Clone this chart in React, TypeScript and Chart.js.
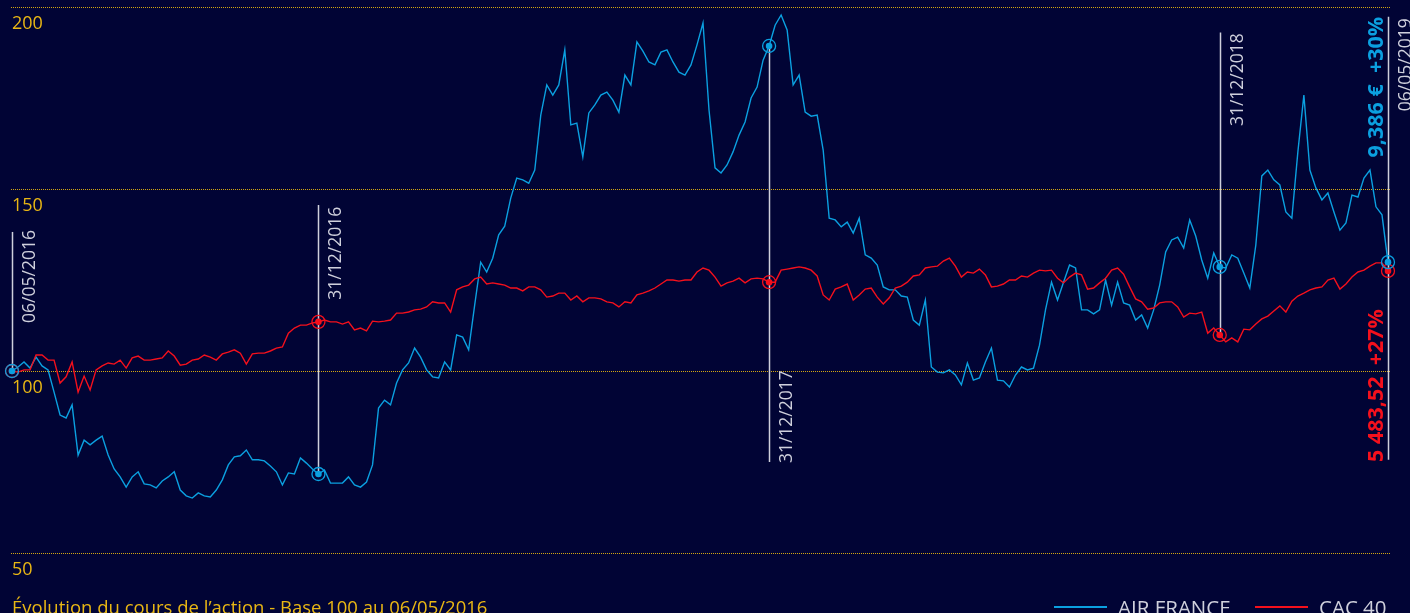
import React, { useEffect, useRef } from "react";
import { Chart, registerables } from "chart.js";

Chart.register(...registerables);

// ---------- DATA ----------
// Base 100 at 06/05/2016, sampled at regular intervals through 06/05/2019
const airFrance = [
  100, 101.1, 102.5, 100.8, 103.8, 101.4, 100.3, 94.2, 87.9, 87.1,
  90.7, 76.9, 81.0, 79.7, 81.0, 82.1, 76.9, 73.1, 70.9, 68.1,
  70.9, 72.3, 69.0, 68.7, 67.9, 69.8, 70.9, 72.3, 67.3, 65.7,
  65.1, 66.5, 65.7, 65.4, 67.3, 70.1, 74.2, 76.4, 76.7, 78.3,
  75.6, 75.6, 75.3, 73.9, 72.3, 68.7, 72.0, 71.7, 76.1, 74.7,
  73.1, 71.7, 72.8, 69.2, 69.2, 69.2, 70.9, 68.7, 68.1, 69.5,
  74.2, 89.8, 92.0, 90.7, 96.7, 100.3, 102.2, 106.3, 103.8, 100.3,
  98.4, 98.1, 102.5, 100.3, 109.9, 109.3, 105.8, 118.1, 129.9, 127.2,
  131.0, 137.4, 139.8, 147.5, 153.0, 152.5, 151.6, 155.2, 170.3, 178.6,
  175.8, 178.6, 188.2, 167.6, 168.1, 158.8, 170.9, 173.1, 175.8, 176.6,
  174.4, 171.1, 181.3, 178.6, 190.4, 187.9, 184.9, 184.1, 187.6, 188.2,
  184.9, 182.1, 181.3, 184.1, 189.6, 195.6, 171.7, 155.8, 154.4, 156.6,
  160.2, 164.8, 168.4, 175.0, 178.0, 185.4, 189.3, 195.0, 197.8, 193.7,
  178.6, 181.3, 171.1, 170.0, 170.3, 160.7, 142.0, 141.5, 139.6, 140.9,
  137.9, 142.0, 131.9, 131.0, 129.1, 123.1, 122.3, 122.3, 120.6, 120.3,
  114.0, 112.6, 119.5, 101.1, 99.7, 99.5, 100.3, 98.9, 96.2, 102.2,
  97.5, 98.1, 102.5, 106.3, 97.5, 97.3, 95.6, 98.9, 101.1, 100.3,
  100.8, 107.1, 116.8, 124.4, 119.5, 124.4, 129.1, 128.3, 116.8, 116.8,
  115.7, 116.8, 125.0, 118.1, 124.4, 118.7, 118.1, 114.0, 115.4, 111.8,
  116.8, 123.6, 132.7, 136.0, 136.8, 133.8, 141.5, 137.1, 130.5, 125.5,
  132.4, 128.6, 128.3, 131.9, 131.0, 126.9, 122.8, 134.6, 153.6, 155.2,
  152.5, 151.1, 143.7, 142.0, 160.2, 175.8, 155.2, 150.3, 147.0, 148.9,
  143.7, 138.7, 140.7, 148.3, 147.8, 153.0, 155.2, 145.1, 142.9, 129.9,
];

const cac40 = [
  100, 99.7, 100.3, 100.3, 104.4, 104.4, 103.0, 103.0, 96.7, 98.4,
  102.5, 94.2, 98.6, 94.8, 100.3, 101.4, 102.2, 101.9, 103.0, 100.8,
  103.6, 104.1, 103.0, 103.0, 103.3, 103.6, 105.5, 104.1, 101.6, 101.9,
  103.0, 103.3, 104.4, 103.8, 103.0, 104.7, 105.2, 105.8, 104.9, 101.9,
  104.7, 104.9, 104.9, 105.5, 106.3, 106.6, 110.4, 111.8, 112.6, 112.6,
  113.2, 113.5, 114.0, 113.5, 113.5, 112.9, 113.5, 111.3, 111.8, 111.0,
  113.7, 113.5, 113.7, 114.0, 115.9, 115.9, 116.2, 116.8, 117.0, 117.6,
  119.0, 118.7, 118.7, 116.2, 122.3, 123.1, 123.6, 125.3, 125.8, 123.9,
  124.2, 123.9, 123.6, 122.8, 122.8, 122.0, 123.1, 123.1, 122.3, 120.3,
  120.6, 121.4, 121.4, 119.5, 120.6, 119.0, 120.1, 120.1, 119.8, 119.0,
  118.7, 117.6, 119.0, 118.7, 120.9, 121.4, 122.0, 122.8, 123.9, 125.0,
  125.0, 124.7, 125.0, 125.0, 127.2, 128.3, 127.7, 125.8, 123.3, 124.2,
  124.7, 125.5, 124.2, 125.3, 125.5, 125.3, 124.4, 124.4, 127.7, 128.0,
  128.3, 128.6, 128.3, 127.7, 126.1, 120.9, 119.5, 122.5, 123.1, 123.9,
  119.5, 120.9, 122.5, 122.8, 120.3, 118.4, 120.1, 122.8, 123.3, 124.4,
  126.1, 126.4, 128.3, 128.6, 128.8, 130.2, 131.0, 128.8, 125.8, 127.2,
  126.9, 128.0, 126.4, 123.1, 123.3, 123.9, 125.0, 125.0, 126.1, 125.8,
  126.9, 127.7, 127.5, 127.7, 125.5, 124.2, 125.8, 126.9, 126.4, 122.5,
  122.8, 124.2, 125.5, 127.7, 128.3, 126.6, 123.1, 119.8, 119.0, 117.0,
  117.3, 118.7, 119.0, 119.0, 117.6, 114.8, 115.9, 115.7, 116.2, 110.4,
  111.8, 109.9, 108.0, 109.1, 108.0, 111.5, 111.3, 112.9, 114.3, 115.1,
  116.5, 117.9, 116.2, 119.2, 120.6, 121.4, 122.3, 122.8, 123.1, 125.0,
  125.5, 122.5, 123.9, 125.8, 127.2, 127.7, 128.8, 129.7, 129.7, 127.5,
];

const seriesNames = ["AIR FRANCE", "CAC 40"];
const yTicks = [50, 100, 150, 200];
const eventIndex = [0, 51, 126, 201, 229];
const eventLabels = ["06/05/2016", "31/12/2016", "31/12/2017", "31/12/2018", "06/05/2019"];
const eventLineTop = [138.2, 145.6, 189.3, 193.0, 197.3];
const eventLineBottom = [100, 71.7, 75.0, 109.9, 75.6];
const finalLabels = ["9,386 €  +30%", "5 483,52  +27%"];
const caption = "Évolution du cours de l’action - Base 100 au 06/05/2016";

// ---------- STYLE ----------
const BG = "#010435";
const GOLD = "#e9b714";
const GRID = "#d4a710";
const BLUE = "#0ba0e0";
const RED = "#f4101c";
const WHITE = "#cfd0dc";
const FONT = "'Open Sans', 'DejaVu Sans', sans-serif";

// label anchors (value on y axis, and whether the text starts or ends there)
const eventLabelAnchor = [
  { v: 113.2, align: "left" },
  { v: 145.1, align: "right" },
  { v: 74.7, align: "left" },
  { v: 192.8, align: "right" },
  { v: 196.9, align: "right" },
];

const decor = {
  id: "decor",
  beforeDraw(chart: any) {
    const { ctx, width, height } = chart;
    ctx.save();
    ctx.fillStyle = BG;
    ctx.fillRect(0, 0, width, height);
    ctx.restore();
  },
  beforeDatasetsDraw(chart: any) {
    const { ctx, chartArea } = chart;
    const x = chart.scales.x;
    const y = chart.scales.y;
    ctx.save();
    // dotted grid
    ctx.fillStyle = GRID;
    yTicks.forEach((t) => {
      const py = Math.round(y.getPixelForValue(t));
      const x0 = Math.round(chartArea.left) - 1;
      const x1 = Math.round(chartArea.right) + 1;
      for (let px = x0; px <= x1; px += 2) {
        ctx.fillRect(px, py, 1, 1);
      }
    });
    // tick labels
    ctx.fillStyle = GOLD;
    ctx.font = `18px ${FONT}`;
    ctx.textAlign = "left";
    ctx.textBaseline = "alphabetic";
    yTicks.forEach((t) => {
      ctx.fillText(String(t), chartArea.left, y.getPixelForValue(t) + 22);
    });
    // event lines
    ctx.strokeStyle = WHITE;
    ctx.lineWidth = 1.5;
    eventIndex.forEach((idx, i) => {
      const px = Math.round(x.getPixelForValue(idx)) + 0.5;
      ctx.beginPath();
      ctx.moveTo(px, y.getPixelForValue(eventLineTop[i]));
      ctx.lineTo(px, y.getPixelForValue(eventLineBottom[i]));
      ctx.stroke();
    });
    ctx.restore();
  },
  afterDatasetsDraw(chart: any) {
    const { ctx, chartArea, height } = chart;
    const x = chart.scales.x;
    const y = chart.scales.y;
    ctx.save();
    // markers
    const drawMarker = (idx: number, v: number, color: string) => {
      const px = x.getPixelForValue(idx);
      const py = y.getPixelForValue(v);
      ctx.strokeStyle = color;
      ctx.lineWidth = 1.3;
      ctx.beginPath();
      ctx.arc(px, py, 6.5, 0, Math.PI * 2);
      ctx.stroke();
      ctx.fillStyle = color;
      ctx.beginPath();
      ctx.arc(px, py, 3.3, 0, Math.PI * 2);
      ctx.fill();
    };
    eventIndex.forEach((idx) => drawMarker(idx, cac40[idx], RED));
    eventIndex.forEach((idx) => drawMarker(idx, airFrance[idx], BLUE));

    // rotated event labels
    const rotText = (text: string, bx: number, ay: number, align: string, font: string, color: string) => {
      ctx.save();
      ctx.translate(bx, ay);
      ctx.rotate(-Math.PI / 2);
      ctx.font = font;
      ctx.fillStyle = color;
      ctx.textAlign = align;
      ctx.textBaseline = "alphabetic";
      ctx.fillText(text, 0, 0);
      ctx.restore();
    };
    eventIndex.forEach((idx, i) => {
      const px = x.getPixelForValue(idx);
      const a = eventLabelAnchor[i];
      rotText(eventLabels[i], px + 23, y.getPixelForValue(a.v), a.align, `17.5px ${FONT}`, WHITE);
    });
    const lastX = x.getPixelForValue(eventIndex[eventIndex.length - 1]);
    rotText(finalLabels[0], lastX - 5, y.getPixelForValue(197.3), "right", `bold 21.5px ${FONT}`, BLUE);
    rotText(finalLabels[1], lastX - 5, y.getPixelForValue(75.0), "left", `bold 21.5px ${FONT}`, RED);

    // caption
    ctx.fillStyle = GOLD;
    ctx.font = `18.5px ${FONT}`;
    ctx.textAlign = "left";
    ctx.textBaseline = "alphabetic";
    ctx.fillText(caption, chartArea.left, height + 1);

    // legend
    const legendItems = [
      { name: seriesNames[0], color: BLUE, x0: 1054 },
      { name: seriesNames[1], color: RED, x0: 1255 },
    ];
    legendItems.forEach((it) => {
      ctx.strokeStyle = it.color;
      ctx.lineWidth = 2;
      ctx.beginPath();
      ctx.moveTo(it.x0, height - 6);
      ctx.lineTo(it.x0 + 53, height - 6);
      ctx.stroke();
      ctx.fillStyle = WHITE;
      ctx.font = `20.5px ${FONT}`;
      ctx.fillText(it.name, it.x0 + 64, height + 2);
    });
    ctx.restore();
  },
};

export default function App() {
  const canvasRef = useRef<HTMLCanvasElement | null>(null);

  useEffect(() => {
    document.body.style.margin = "0";
    document.body.style.background = BG;
    const canvas = canvasRef.current;
    if (!canvas) return;
    const labels = airFrance.map((_, i) => String(i));
    const chart = new Chart(canvas, {
      type: "line",
      data: {
        labels,
        datasets: [
          {
            label: seriesNames[1],
            data: cac40,
            borderColor: RED,
            borderWidth: 1.4,
            pointRadius: 0,
            tension: 0,
            fill: false,
          },
          {
            label: seriesNames[0],
            data: airFrance,
            borderColor: BLUE,
            borderWidth: 1.4,
            pointRadius: 0,
            tension: 0,
            fill: false,
          },
        ],
      },
      options: {
        responsive: false,
        animation: false,
        devicePixelRatio: 1,
        layout: { padding: { left: 12, right: 22, top: 7, bottom: 60 } },
        plugins: { legend: { display: false }, tooltip: { enabled: false }, title: { display: false } },
        scales: {
          x: { type: "category", display: false, offset: false },
          y: { type: "linear", display: false, min: 50, max: 200 },
        },
      },
      plugins: [decor],
    } as any);
    return () => chart.destroy();
  }, []);

  return (
    <div style={{ position: "fixed", left: 0, top: 0, width: 1410, height: 613, background: BG }}>
      <canvas ref={canvasRef} width={1410} height={613} style={{ width: 1410, height: 613, display: "block" }} />
    </div>
  );
}
